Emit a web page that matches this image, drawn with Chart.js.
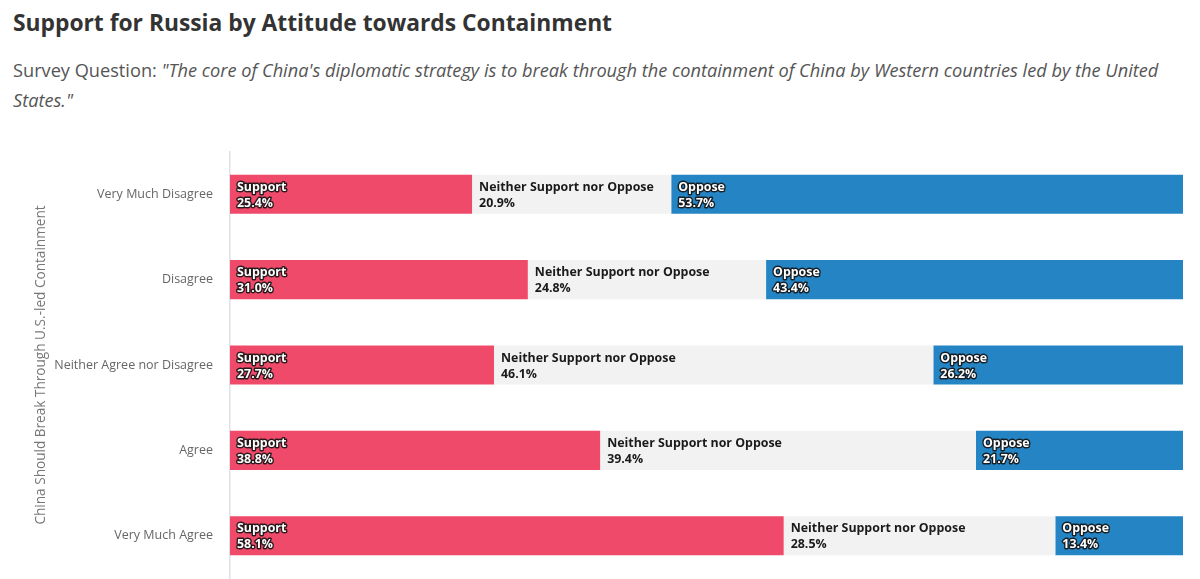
<!DOCTYPE html>
<html>
<head>
<meta charset="utf-8">
<script src="https://cdn.jsdelivr.net/npm/chart.js@4"></script>
<style>
  html, body { margin: 0; padding: 0; background: #fff; width: 1200px; height: 579px; overflow: hidden; font-family: "Open Sans", sans-serif; position: relative; }
  #title { position: absolute; left: 13px; top: 6px; font-size: 22.8px; font-weight: bold; color: #333; line-height: 34px; white-space: nowrap; }
  #sub { position: absolute; left: 13px; top: 55px; font-size: 18.2px; color: #555; line-height: 30px; white-space: nowrap; }
  #wrap { position: absolute; left: 0; top: 127px; width: 1200px; height: 476px; }
</style>
</head>
<body>
<div id="title">Support for Russia by Attitude towards Containment</div>
<div id="sub">Survey Question: <i>"The core of China's diplomatic strategy is to break through the containment of China by Western countries led by the United<br>States."</i></div>
<div id="wrap"><canvas id="c"></canvas></div>
<script>
const categories = ["Very Much Disagree", "Disagree", "Neither Agree nor Disagree", "Agree", "Very Much Agree"];
const seriesNames = ["Support", "Neither Support nor Oppose", "Oppose"];
const supportValues = [25.4, 31.0, 27.7, 38.8, 58.1];
const neitherValues = [20.9, 24.8, 46.1, 39.4, 28.5];
const opposeValues = [53.7, 43.4, 26.2, 21.7, 13.4];
const axisTitle = "China Should Break Through U.S.-led Containment";

const colors = ["#F04A6A", "#F2F2F2", "#2484C4"];
const textDark = [false, true, false];

const valueSets = [supportValues, neitherValues, opposeValues];
// bars are drawn as shares of each row's total (100% stacked); labels show the reported values
const rowTotals = categories.map((c, i) => valueSets.reduce((s, arr) => s + arr[i], 0));
const shareSets = valueSets.map(arr => arr.map((v, i) => v / rowTotals[i] * 100));

const labelPlugin = {
  id: 'barLabels',
  afterDatasetsDraw(chart) {
    const ctx = chart.ctx;
    ctx.save();
    ctx.font = 'bold 12.4px "Open Sans"';
    ctx.textAlign = 'left';
    ctx.textBaseline = 'middle';
    ctx.lineJoin = 'round';
    chart.data.datasets.forEach((ds, di) => {
      const meta = chart.getDatasetMeta(di);
      meta.data.forEach((bar, i) => {
        const left = Math.min(bar.x, bar.base);
        const x = left + 7;
        const y1 = bar.y - 7;
        const y2 = bar.y + 9;
        const l1 = ds.label;
        const l2 = valueSets[di][i].toFixed(1) + '%';
        if (textDark[di]) {
          ctx.fillStyle = '#1a1a1a';
          ctx.fillText(l1, x, y1);
          ctx.fillText(l2, x, y2);
        } else {
          ctx.strokeStyle = 'rgba(20,20,20,0.9)';
          ctx.lineWidth = 2.8;
          ctx.strokeText(l1, x, y1);
          ctx.strokeText(l2, x, y2);
          ctx.fillStyle = '#fff';
          ctx.fillText(l1, x, y1);
          ctx.fillText(l2, x, y2);
        }
      });
    });
    ctx.restore();
  }
};

new Chart(document.getElementById('c'), {
  type: 'bar',
  data: {
    labels: categories,
    datasets: seriesNames.map((n, k) => ({
      label: n,
      data: shareSets[k],
      backgroundColor: colors[k],
      borderWidth: 0,
      categoryPercentage: 1,
      barPercentage: 0.458
    }))
  },
  options: {
    indexAxis: 'y',
    responsive: true,
    maintainAspectRatio: false,
    animation: false,
    layout: { padding: { top: 11, right: 17, bottom: 0, left: 0 } },
    plugins: { legend: { display: false }, tooltip: { enabled: false }, title: { display: false } },
    scales: {
      x: { stacked: true, min: 0, max: 100, display: false },
      y: {
        stacked: true,
        grid: { display: false, drawTicks: false },
        border: { display: true, color: '#DDE1E8', width: 1.5 },
        ticks: { color: '#666', font: { family: 'Open Sans', size: 12.5 }, padding: 17 },
        title: { display: true, text: axisTitle, color: '#777', font: { family: 'Open Sans', size: 13.6 }, padding: { top: 33, bottom: 0 } },
        afterFit(scale) { scale.width = 230; }
      }
    }
  },
  plugins: [labelPlugin]
});
</script>
</body>
</html>
